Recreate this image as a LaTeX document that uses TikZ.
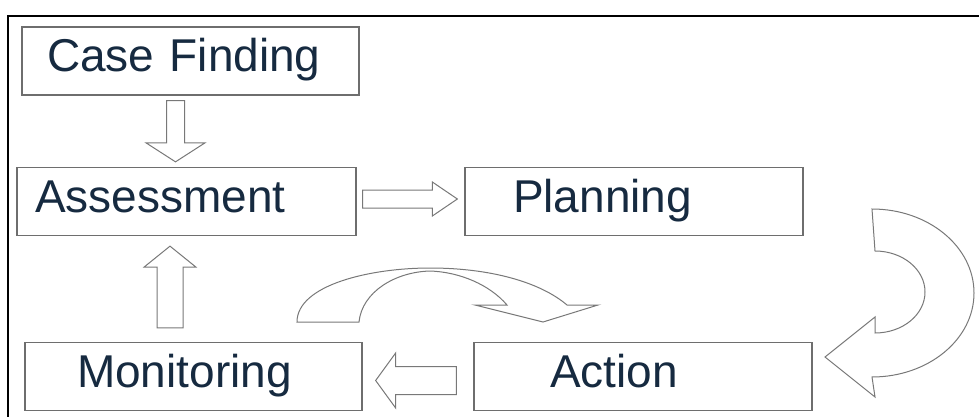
\documentclass[tikz,border=0pt]{standalone}
\usepackage{fontspec}
\setmainfont{Liberation Sans}
\usetikzlibrary{calc}

\definecolor{boxgray}{RGB}{110,110,110}
\definecolor{arrowgray}{RGB}{120,120,120}
\definecolor{labelnavy}{RGB}{22,42,64}

% block arrow from tail to tip: half shaft, half head, head length
\newcommand{\blockarrow}[5]{%
  \coordinate (ba-h) at ($(#2)!#5!(#1)$);
  \draw[blockarrow] ($(#1)!#3!90:(#2)$) -- ($(ba-h)!#3!90:(#2)$) -- ($(ba-h)!#4!90:(#2)$) -- (#2)
    -- ($(ba-h)!#4!-90:(#2)$) -- ($(ba-h)!#3!-90:(#2)$) -- ($(#1)!#3!-90:(#2)$) -- cycle;
}

\begin{document}
\begin{tikzpicture}[x=1pt, y=-1pt,
    stage/.style 2 args={draw=boxgray, line width=1.3pt, inner ysep=0pt, inner xsep=#1, text width=#2,
      align=left, minimum height=68pt, text height=32pt, text depth=11pt,
      font=\fontsize{46}{50}\selectfont, text=labelnavy},
    blockarrow/.style={draw=arrowgray, line width=1pt, fill=white, line join=miter},
    bentarrow/.style={draw=arrowgray, line width=1pt, fill=white, line join=miter}]
  \useasboundingbox (0,0) rectangle (979,417);

  % Frame
  \draw[line width=2.5pt] (8,420) -- (8,16) -- (982,16);

  % Stages
  \node[stage={25pt}{287pt}] (case)   at (190.5,61)    {Case Finding};
  \node[stage={18pt}{303pt}] (assess) at (186.5,201.5) {Assessment};
  \node[stage={48pt}{242pt}] (plan)   at (634,201.5)   {Planning};
  \node[stage={52pt}{233pt}] (mon)    at (193.5,376.5) {Monitoring};
  \node[stage={76pt}{186pt}] (act)    at (643,376.5)   {Action};

  % Straight arrows
  \coordinate (cf-tail) at ([xshift=-15pt,yshift=-5pt]case.south);
  \coordinate (cf-tip)  at ([xshift=-11pt,yshift=5pt]assess.north);
  \blockarrow{cf-tail}{cf-tip}{9pt}{29.5pt}{19pt}

  \coordinate (as-tail) at ([xshift=6pt,yshift=2.5pt]assess.east);
  \coordinate (as-tip)  at ([xshift=-7pt,yshift=2.5pt]plan.west);
  \blockarrow{as-tail}{as-tip}{9pt}{17pt}{25pt}

  \coordinate (ac-tail) at ([xshift=-17pt,yshift=-4pt]act.west);
  \coordinate (ac-tip)  at ([xshift=13pt,yshift=-4pt]mon.east);
  \blockarrow{ac-tail}{ac-tip}{14pt}{27.5pt}{20pt}

  \coordinate (mo-tail) at ([xshift=-23.5pt,yshift=14pt]mon.north);
  \coordinate (mo-tip)  at ([xshift=-16.5pt,yshift=-10pt]assess.south);
  \blockarrow{mo-tail}{mo-tip}{13pt}{26pt}{21pt}

  % Bent arrows
  \draw[bentarrow] (872,209) arc[start angle=-90, end angle=90, x radius=102, y radius=84]
    -- (875,397) -- (825,357) -- (875,317) -- (875,333)
    arc[start angle=90, end angle=-90, x radius=50, y radius=41] -- cycle;
  \draw[bentarrow] (297,322) .. controls (297,285) and (370,268) .. (430,268)
    .. controls (490,268) and (540,282) .. (567,305) -- (598,305) -- (543,322) -- (475,305) -- (507,305)
    .. controls (490,285) and (460,272) .. (430,271) .. controls (395,272) and (362,292) .. (359,322) -- cycle;
\end{tikzpicture}
\end{document}
